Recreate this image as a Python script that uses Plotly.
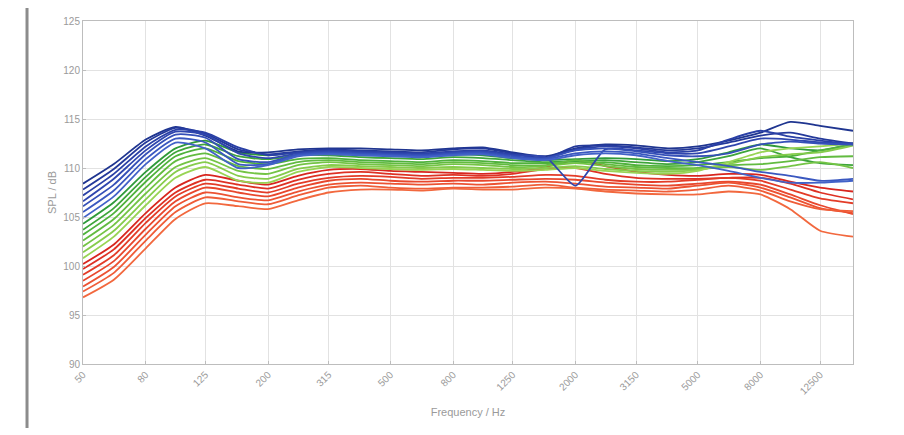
import plotly.graph_objects as go

freq_hz = [50, 63, 80, 100, 125, 160, 200, 250, 315, 400, 500, 630, 800, 1000,
           1250, 1600, 2000, 2500, 3150, 4000, 5000, 6300, 8000, 10000, 12500, 16000]

tick_vals = [50, 80, 125, 200, 315, 500, 800, 1250, 2000, 3150, 5000, 8000, 12500]
tick_text = ["50", "80", "125", "200", "315", "500", "800", "1250", "2000", "3150", "5000", "8000", "12500"]
y_ticks = [90, 95, 100, 105, 110, 115, 120, 125]

blue_curves = [
    [108.4, 110.4, 112.9, 114.2, 113.3, 111.7, 111.6, 111.9, 112.0, 112.0, 111.9, 111.8, 112.0, 112.1, 111.6, 111.2, 112.0, 112.4, 112.3, 112.0, 112.2, 112.8, 113.6, 114.7, 114.3, 113.8],
    [107.8, 109.9, 112.6, 114.1, 113.5, 111.9, 111.4, 111.7, 111.9, 111.8, 111.7, 111.6, 111.9, 112.0, 111.5, 111.0, 112.2, 112.3, 112.1, 111.8, 112.0, 112.6, 113.3, 113.6, 113.0, 112.5],
    [107.2, 109.4, 112.2, 113.9, 113.6, 112.1, 111.3, 111.6, 111.8, 111.7, 111.6, 111.5, 111.7, 111.8, 111.4, 111.0, 111.9, 112.2, 112.0, 111.6, 111.8, 112.9, 113.8, 113.2, 112.8, 112.4],
    [106.6, 108.9, 111.8, 113.7, 113.4, 111.5, 111.0, 111.5, 111.7, 111.6, 111.5, 111.4, 111.6, 111.7, 111.3, 111.1, 108.2, 111.9, 111.8, 111.5, 111.5, 112.2, 113.0, 112.9, 112.6, 112.5],
    [106.1, 108.3, 111.4, 113.4, 113.1, 110.9, 110.6, 111.4, 111.6, 111.5, 111.4, 111.3, 111.5, 111.6, 111.2, 111.0, 111.8, 112.0, 111.7, 111.3, 111.2, 111.5, 112.4, 112.7, 112.5, 112.4],
    [105.5, 107.7, 110.9, 113.0, 112.6, 110.4, 110.4, 111.3, 111.5, 111.4, 111.3, 111.2, 111.4, 111.5, 111.1, 110.9, 111.5, 111.7, 111.5, 111.0, 110.6, 110.2, 109.6, 109.2, 108.7, 108.9],
    [104.9, 107.1, 110.4, 112.6, 112.0, 110.0, 110.3, 111.2, 111.4, 111.3, 111.2, 111.1, 111.3, 111.4, 111.0, 110.8, 111.3, 111.5, 111.3, 110.7, 110.3, 109.7, 109.0, 108.5, 108.5, 108.7],
]

green_curves = [
    [104.3, 106.5, 109.6, 112.0, 112.8, 111.6, 111.3, 111.6, 111.6, 111.4, 111.3, 111.2, 111.4, 111.3, 111.0, 110.8, 110.9, 111.0, 110.9, 110.7, 110.9, 111.6, 112.4, 112.0, 111.8, 112.5],
    [103.7, 105.9, 109.1, 111.6, 112.4, 111.2, 110.9, 111.3, 111.3, 111.1, 111.0, 110.9, 111.1, 111.0, 110.8, 110.6, 110.7, 110.8, 110.6, 110.4, 110.6, 111.2, 112.0, 111.1, 110.5, 110.3],
    [103.2, 105.4, 108.6, 111.2, 112.0, 110.7, 110.4, 110.9, 111.0, 110.8, 110.7, 110.6, 110.8, 110.7, 110.5, 110.5, 110.5, 110.6, 110.3, 110.2, 110.3, 110.6, 111.0, 111.2, 111.8, 112.4],
    [102.6, 104.8, 108.0, 110.7, 111.5, 110.2, 109.9, 110.6, 110.8, 110.6, 110.5, 110.4, 110.6, 110.5, 110.3, 110.3, 110.8, 110.4, 110.1, 110.0, 110.0, 110.3, 110.4, 110.7, 111.1, 111.2],
    [102.0, 104.2, 107.4, 110.1, 111.0, 109.7, 109.4, 110.3, 110.6, 110.4, 110.3, 110.2, 110.4, 110.3, 110.1, 110.2, 110.5, 110.2, 109.9, 109.8, 109.9, 110.1, 109.8, 110.2, 110.6, 110.0],
    [101.4, 103.6, 106.8, 109.6, 110.6, 109.2, 108.9, 109.9, 110.3, 110.2, 110.1, 110.0, 110.1, 110.0, 109.9, 110.0, 110.2, 109.9, 109.7, 109.6, 109.8, 110.4, 111.1, 111.4, 111.6, 112.3],
    [100.8, 103.0, 106.2, 109.0, 110.1, 108.7, 108.5, 109.6, 110.1, 110.0, 109.9, 109.8, 109.9, 109.8, 109.7, 109.8, 110.0, 109.7, 109.5, 109.4, 109.7, 110.6, 111.6, 112.0, 112.2, 112.5],
]

red_curves = [
    [100.2, 102.2, 105.4, 108.0, 109.3, 108.7, 108.3, 109.2, 109.8, 109.9, 109.7, 109.6, 109.5, 109.4, 109.6, 110.1, 110.8, 110.2, 109.6, 109.3, 109.2, 109.4, 109.3, 108.6, 108.0, 107.6],
    [99.7, 101.7, 104.9, 107.5, 108.8, 108.3, 107.9, 108.8, 109.4, 109.6, 109.4, 109.2, 109.3, 109.2, 109.4, 109.9, 110.0, 109.4, 109.0, 108.9, 108.9, 109.0, 109.0, 108.4, 107.5, 106.8],
    [99.1, 101.1, 104.4, 107.1, 108.4, 107.9, 107.5, 108.4, 109.0, 109.2, 109.1, 108.9, 109.0, 109.0, 109.1, 109.3, 109.2, 108.8, 108.6, 108.6, 108.8, 109.0, 108.7, 107.8, 106.9, 106.4],
    [98.5, 100.5, 103.8, 106.6, 108.0, 107.5, 107.1, 108.0, 108.7, 108.9, 108.7, 108.6, 108.7, 108.7, 108.8, 108.9, 108.8, 108.5, 108.3, 108.2, 108.4, 108.6, 108.3, 107.3, 106.2, 105.3],
    [97.9, 99.9, 103.2, 106.1, 107.5, 107.0, 106.7, 107.6, 108.3, 108.5, 108.4, 108.3, 108.4, 108.3, 108.5, 108.6, 108.4, 108.1, 108.0, 107.9, 108.2, 108.5, 108.0, 107.0, 105.9, 105.4],
    [97.4, 99.3, 102.6, 105.5, 107.0, 106.6, 106.3, 107.2, 108.0, 108.2, 108.0, 107.9, 108.0, 108.0, 108.1, 108.3, 108.0, 107.8, 107.7, 107.6, 107.8, 108.2, 107.7, 106.6, 105.8, 105.6],
    [96.8, 98.6, 101.8, 104.8, 106.4, 106.1, 105.8, 106.7, 107.5, 107.8, 107.8, 107.7, 107.9, 107.8, 107.8, 108.0, 107.9, 107.6, 107.4, 107.3, 107.3, 107.6, 107.3, 105.8, 103.6, 103.0],
]

blue_colors = ["#1f3590", "#24399a", "#2a40a6", "#2f46ae", "#3550b8", "#3a58c0", "#4262c8"]
green_colors = ["#2f9a3a", "#3ea53a", "#4fb23c", "#62bb40", "#74c445", "#86cc4c", "#98d454"]
red_colors = ["#d8261f", "#de3124", "#e33c28", "#e8472d", "#ec5232", "#ef5d38", "#f2683e"]

fig = go.Figure()
for curves, colors in ((red_curves, red_colors), (green_curves, green_colors), (blue_curves, blue_colors)):
    for vals, col in zip(curves, colors):
        fig.add_trace(go.Scatter(x=freq_hz, y=vals, mode="lines",
                                 line=dict(color=col, width=1.8, shape="spline", smoothing=0.6),
                                 showlegend=False, hoverinfo="skip"))

axis_gray = "#bdbdbd"
text_gray = "#9a9a9a"

fig.update_layout(
    width=896, height=420,
    margin=dict(l=75, r=51, t=7, b=64),
    paper_bgcolor="white", plot_bgcolor="white",
    font=dict(family="Liberation Sans, Arial, sans-serif", size=10, color=text_gray),
    xaxis=dict(type="log", range=[1.69897, 4.20412],
               tickvals=tick_vals, ticktext=tick_text, tickangle=-45,
               showgrid=True, gridcolor="#e2e2e2", gridwidth=1,
               showline=True, linecolor=axis_gray, linewidth=1, mirror=True,
               ticks="inside", ticklen=3, tickcolor=axis_gray,
               zeroline=False,
               title=dict(text="Frequency / Hz", font=dict(size=11, color=text_gray), standoff=12)),
    yaxis=dict(range=[90, 125], tickvals=y_ticks,
               showgrid=True, gridcolor="#e2e2e2", gridwidth=1,
               showline=True, linecolor=axis_gray, linewidth=1, mirror=True,
               ticks="inside", ticklen=3, tickcolor=axis_gray,
               zeroline=False,
               title=dict(text="SPL / dB", font=dict(size=11, color=text_gray), standoff=4)),
)

fig.add_shape(type="line", xref="paper", yref="paper",
              x0=-0.0727, x1=-0.0727, y0=-0.2, y1=1.05,
              line=dict(color="#8c8c8c", width=3))

fig.write_html("out.html")
